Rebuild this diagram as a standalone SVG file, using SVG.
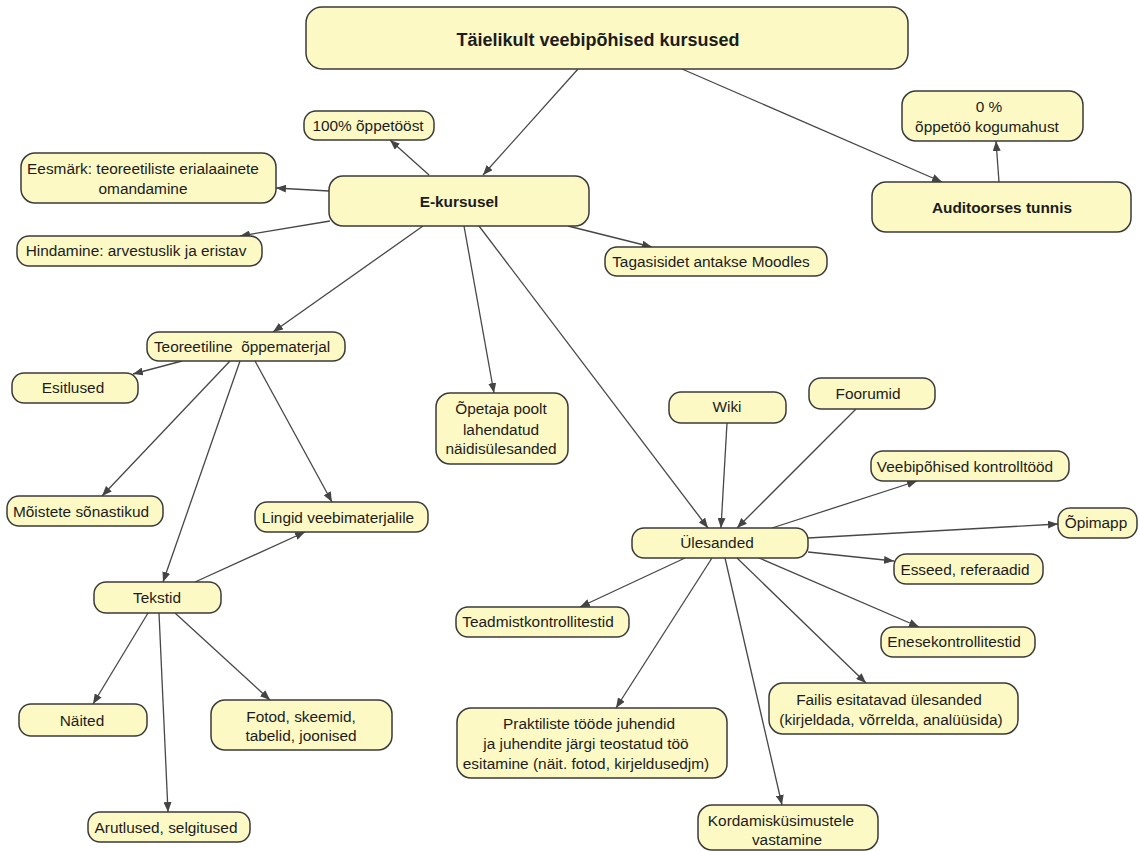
<svg xmlns="http://www.w3.org/2000/svg" width="1139" height="851" viewBox="0 0 1139 851">
  <defs>
    <style>
      .box { fill: #fcf9c5; stroke: #3a3a3a; stroke-width: 1.5; }
      .t { font-family: "Liberation Sans", Arial, sans-serif; font-size: 15.4px; fill: #1c1c1c; text-anchor: middle; }
      .b { font-weight: bold; font-size: 15.4px; }
      .big { font-weight: bold; font-size: 18px; }
      .edge { stroke: #474747; stroke-width: 1.3; fill: none; marker-end: url(#arrow); }
    </style>
    <marker id="arrow" viewBox="0 0 10 8" refX="10" refY="4" markerWidth="10" markerHeight="8" markerUnits="userSpaceOnUse" orient="auto">
      <path d="M0,0 L10,4 L0,8 z" fill="#444"/>
    </marker>
  </defs>
  <rect width="1139" height="851" fill="#ffffff"/>

  <!-- connectors -->
  <g id="connectors">
    <line class="edge" x1="578" y1="69" x2="483" y2="175"/>
    <line class="edge" x1="682" y1="69" x2="942" y2="182"/>
    <line class="edge" x1="999" y1="182" x2="996" y2="141"/>
    <line class="edge" x1="429" y1="175" x2="390" y2="140"/>
    <line class="edge" x1="329" y1="191" x2="276" y2="188"/>
    <line class="edge" x1="330" y1="221" x2="240" y2="236"/>
    <line class="edge" x1="568" y1="226" x2="652" y2="247"/>
    <line class="edge" x1="423" y1="226" x2="273" y2="332"/>
    <line class="edge" x1="464" y1="226" x2="494" y2="393"/>
    <line class="edge" x1="479" y1="226" x2="708" y2="528"/>
    <line class="edge" x1="182" y1="361" x2="133" y2="374"/>
    <line class="edge" x1="230" y1="361" x2="102" y2="496"/>
    <line class="edge" x1="240" y1="361" x2="163" y2="582"/>
    <line class="edge" x1="255" y1="361" x2="332" y2="502"/>
    <line class="edge" x1="195" y1="582" x2="305" y2="532"/>
    <line class="edge" x1="148" y1="613" x2="93" y2="704"/>
    <line class="edge" x1="159" y1="613" x2="168" y2="812"/>
    <line class="edge" x1="175" y1="613" x2="270" y2="700"/>
    <line class="edge" x1="727" y1="423" x2="721" y2="528"/>
    <line class="edge" x1="856" y1="409" x2="737" y2="528"/>
    <line class="edge" x1="772" y1="528" x2="917" y2="481"/>
    <line class="edge" x1="808" y1="538" x2="1058" y2="524"/>
    <line class="edge" x1="808" y1="552" x2="894" y2="561"/>
    <line class="edge" x1="759" y1="558" x2="919" y2="627"/>
    <line class="edge" x1="737" y1="558" x2="866" y2="683"/>
    <line class="edge" x1="725" y1="558" x2="782" y2="805"/>
    <line class="edge" x1="712" y1="558" x2="616" y2="708"/>
    <line class="edge" x1="685" y1="558" x2="580" y2="607"/>
  </g>

  <!-- nodes -->
  <g id="n-root">
    <rect class="box" x="306" y="7" width="602" height="62" rx="16"/>
    <text class="t big" x="598" y="46">Täielikult veebipõhised kursused</text>
  </g>
  <g id="n-100">
    <rect class="box" x="304" y="111" width="130" height="29" rx="12"/>
    <text class="t" x="368" y="131">100% õppetööst</text>
  </g>
  <g id="n-eesmark">
    <rect class="box" x="21" y="153" width="255" height="50" rx="14"/>
    <text class="t" x="143" y="174">Eesmärk: teoreetiliste erialaainete</text>
    <text class="t" x="143" y="194">omandamine</text>
  </g>
  <g id="n-ekursusel">
    <rect class="box" x="329" y="176" width="260" height="50" rx="14"/>
    <text class="t b" x="459" y="207">E-kursusel</text>
  </g>
  <g id="n-hindamine">
    <rect class="box" x="17" y="236" width="245" height="30" rx="12"/>
    <text class="t" x="136" y="256">Hindamine: arvestuslik ja eristav</text>
  </g>
  <g id="n-tagasiside">
    <rect class="box" x="605" y="247" width="222" height="29" rx="12"/>
    <text class="t" x="711" y="267">Tagasisidet antakse Moodles</text>
  </g>
  <g id="n-0">
    <rect class="box" x="902" y="91" width="181" height="50" rx="14"/>
    <text class="t" x="989" y="112">0 %</text>
    <text class="t" x="987" y="132">õppetöö kogumahust</text>
  </g>
  <g id="n-auditoorses">
    <rect class="box" x="872" y="182" width="259" height="50" rx="14"/>
    <text class="t b" x="1002" y="213">Auditoorses tunnis</text>
  </g>
  <g id="n-teoreetiline">
    <rect class="box" x="147" y="332" width="198" height="29" rx="12"/>
    <text class="t" x="242" y="352" style="white-space:pre">Teoreetiline  õppematerjal</text>
  </g>
  <g id="n-esitlused">
    <rect class="box" x="12" y="373" width="126" height="30" rx="12"/>
    <text class="t" x="73" y="393">Esitlused</text>
  </g>
  <g id="n-opetaja">
    <rect class="box" x="436" y="393" width="132" height="71" rx="14"/>
    <text class="t" x="501" y="414">Õpetaja poolt</text>
    <text class="t" x="501" y="435">lahendatud</text>
    <text class="t" x="501" y="454">näidisülesanded</text>
  </g>
  <g id="n-wiki">
    <rect class="box" x="669" y="392" width="117" height="31" rx="12"/>
    <text class="t" x="727" y="412">Wiki</text>
  </g>
  <g id="n-foorumid">
    <rect class="box" x="809" y="378" width="126" height="31" rx="12"/>
    <text class="t" x="868" y="399">Foorumid</text>
  </g>
  <g id="n-veebipohised">
    <rect class="box" x="871" y="451" width="198" height="30" rx="12"/>
    <text class="t" x="965" y="472">Veebipõhised kontrolltööd</text>
  </g>
  <g id="n-moistete">
    <rect class="box" x="7" y="496" width="156" height="30" rx="12"/>
    <text class="t" x="81" y="517">Mõistete sõnastikud</text>
  </g>
  <g id="n-lingid">
    <rect class="box" x="255" y="502" width="173" height="30" rx="12"/>
    <text class="t" x="338" y="523">Lingid veebimaterjalile</text>
  </g>
  <g id="n-ulesanded">
    <rect class="box" x="632" y="528" width="176" height="30" rx="12"/>
    <text class="t" x="717" y="548">Ülesanded</text>
  </g>
  <g id="n-opimapp">
    <rect class="box" x="1058" y="508" width="79" height="30" rx="12"/>
    <text class="t" x="1096" y="528">Õpimapp</text>
  </g>
  <g id="n-esseed">
    <rect class="box" x="894" y="554" width="149" height="30" rx="12"/>
    <text class="t" x="965" y="575">Esseed, referaadid</text>
  </g>
  <g id="n-tekstid">
    <rect class="box" x="94" y="582" width="127" height="31" rx="12"/>
    <text class="t" x="157" y="603">Tekstid</text>
  </g>
  <g id="n-teadmist">
    <rect class="box" x="456" y="607" width="173" height="30" rx="12"/>
    <text class="t" x="538" y="627">Teadmistkontrollitestid</text>
  </g>
  <g id="n-enese">
    <rect class="box" x="881" y="627" width="154" height="30" rx="12"/>
    <text class="t" x="954" y="647">Enesekontrollitestid</text>
  </g>
  <g id="n-failis">
    <rect class="box" x="769" y="683" width="249" height="51" rx="14"/>
    <text class="t" x="889" y="705">Failis esitatavad ülesanded</text>
    <text class="t" x="891" y="725">(kirjeldada, võrrelda, analüüsida)</text>
  </g>
  <g id="n-fotod">
    <rect class="box" x="211" y="700" width="181" height="50" rx="14"/>
    <text class="t" x="301" y="722">Fotod, skeemid,</text>
    <text class="t" x="301" y="741">tabelid, joonised</text>
  </g>
  <g id="n-naited">
    <rect class="box" x="19" y="704" width="128" height="32" rx="12"/>
    <text class="t" x="82" y="726">Näited</text>
  </g>
  <g id="n-praktiliste">
    <rect class="box" x="457" y="708" width="270" height="70" rx="14"/>
    <text class="t" x="589" y="729">Praktiliste tööde juhendid</text>
    <text class="t" x="586" y="749">ja juhendite järgi teostatud töö</text>
    <text class="t" x="586" y="769">esitamine (näit. fotod, kirjeldusedjm)</text>
  </g>
  <g id="n-kordamis">
    <rect class="box" x="698" y="805" width="180" height="45" rx="14"/>
    <text class="t" x="781" y="826">Kordamisküsimustele</text>
    <text class="t" x="787" y="845">vastamine</text>
  </g>
  <g id="n-arutlused">
    <rect class="box" x="88" y="812" width="162" height="30" rx="12"/>
    <text class="t" x="166" y="833">Arutlused, selgitused</text>
  </g>
</svg>
